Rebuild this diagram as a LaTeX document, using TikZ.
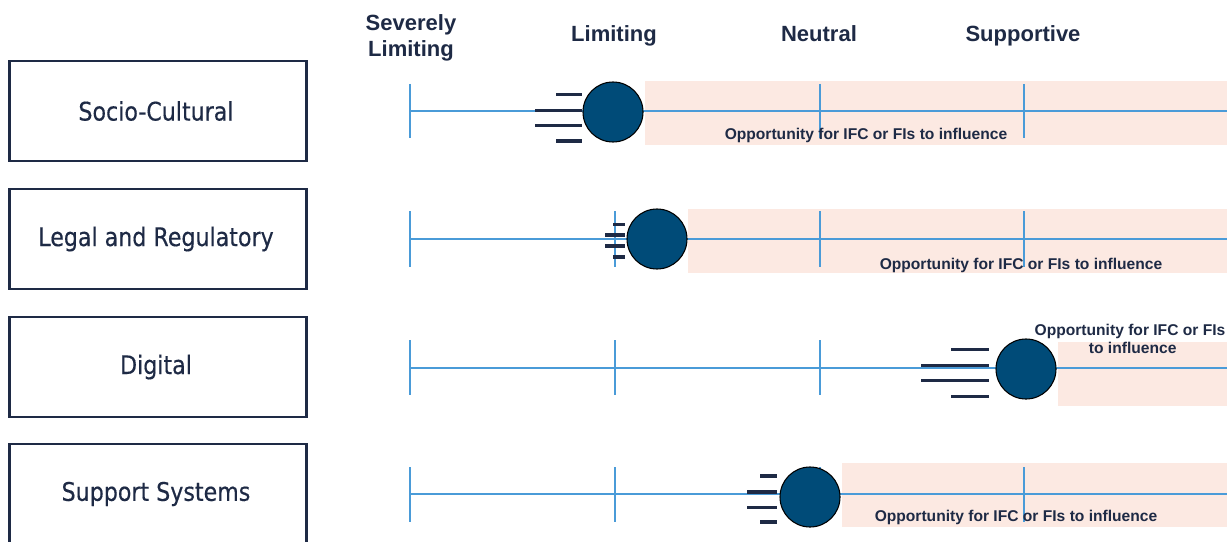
\documentclass[tikz,border=0pt]{standalone}
\usepackage{fontspec}
\setmainfont{Liberation Sans}
\newfontfamily\boxfont[FakeStretch=0.865,FakeBold=0.4]{DejaVu Sans}
\definecolor{navy}{HTML}{1E2A45}
\definecolor{axisblue}{HTML}{4A9BD8}
\definecolor{dotblue}{HTML}{004B78}
\definecolor{pinkbg}{HTML}{FCE9E2}
\newcommand{\boxlabel}[1]{\kern-3pt\raisebox{-3pt}{#1}}
\tikzset{
  catbox/.style={draw=navy, line width=2pt, minimum width=222.75pt, minimum height=75pt, inner sep=0pt,
    font=\boxfont\fontsize{19.2}{22}\selectfont, text=navy},
  header/.style={font=\bfseries\fontsize{16.5}{19.5}\selectfont, text=navy, align=center, inner sep=0pt},
  opp/.style={font=\bfseries\fontsize{11.7}{15}\selectfont, text=navy, align=center, inner sep=0pt},
  axisline/.style={draw=axisblue, line width=1.3pt},
  speed/.style={draw=navy, line width=2.3pt},
  ball/.style={circle, fill=dotblue, draw=black, line width=0.8pt, minimum size=45pt, inner sep=0pt},
  zone/.style={fill=pinkbg}
}
\begin{document}
\begin{tikzpicture}[x=0.75pt,y=-0.75pt]
\useasboundingbox (0,0) rectangle (1227,542);
% pink zones
\fill[zone] (645,81) rectangle (1227,145);
\fill[zone] (688,209) rectangle (1227,273);
\fill[zone] (1058,342) rectangle (1227,406);
\fill[zone] (842,463) rectangle (1227,527);
% headers
\node[header] (hsl) at (411,38) {Severely\\Limiting};
\node[header, anchor=base] (hl) at (614,41.5) {Limiting};
\node[header, anchor=base] (hn) at (819,41.5) {Neutral};
\node[header, anchor=base] (hs) at (1023,41.5) {Supportive};
% axes
\foreach \r/\y/\a/\b in {1/111/84/138, 2/239/211/267, 3/368/340/395, 4/494/467/522}{
  \coordinate (s\r) at (410,\y);
  \coordinate (e\r) at (1227,\y);
  \draw[axisline] (s\r) -- (e\r);
  \foreach \x in {410,615,820,1024}{
    \draw[axisline] (\x,\a) -- (\x,\b);
  }
}
% opportunity texts
\node[opp] (o1) at (866,135) {Opportunity for IFC or FIs to influence};
\node[opp] (o2) at (1021,265) {Opportunity for IFC or FIs to influence};
\node[opp] (o3) at (1130,339) {Opportunity for IFC or FIs\\[-1pt]\hspace*{4pt}to influence};
\node[opp] (o4) at (1016,517) {Opportunity for IFC or FIs to influence};
% speed lines
\draw[speed] (556,94.5) -- (582,94.5);
\draw[speed] (535,110.5) -- (582,110.5);
\draw[speed] (535,125.5) -- (582,125.5);
\draw[speed] (556,141) -- (582,141);
\draw[speed] (613,224.5) -- (625,224.5);
\draw[speed] (605,235) -- (625,235);
\draw[speed] (605,246) -- (625,246);
\draw[speed] (613,257) -- (625,257);
\draw[speed] (951,349.5) -- (989,349.5);
\draw[speed] (921,365.5) -- (989,365.5);
\draw[speed] (921,380.5) -- (989,380.5);
\draw[speed] (951,396.5) -- (989,396.5);
\draw[speed] (760,476) -- (777,476);
\draw[speed] (747,492) -- (777,492);
\draw[speed] (747,507.5) -- (777,507.5);
\draw[speed] (760,522) -- (777,522);
% balls
\node[ball] (b1) at (613,112) {};
\node[ball] (b2) at (657,239) {};
\node[ball] (b3) at (1026,369) {};
\node[ball] (b4) at (810,497) {};
% category boxes
\node[catbox] (c1) at (158,111) {\boxlabel{Socio-Cultural}};
\node[catbox] (c2) at (158,239) {\boxlabel{Legal and Regulatory}};
\node[catbox] (c3) at (158,367) {\boxlabel{Digital}};
\node[catbox] (c4) at (158,494) {\boxlabel{Support Systems}};
\end{tikzpicture}
\end{document}
